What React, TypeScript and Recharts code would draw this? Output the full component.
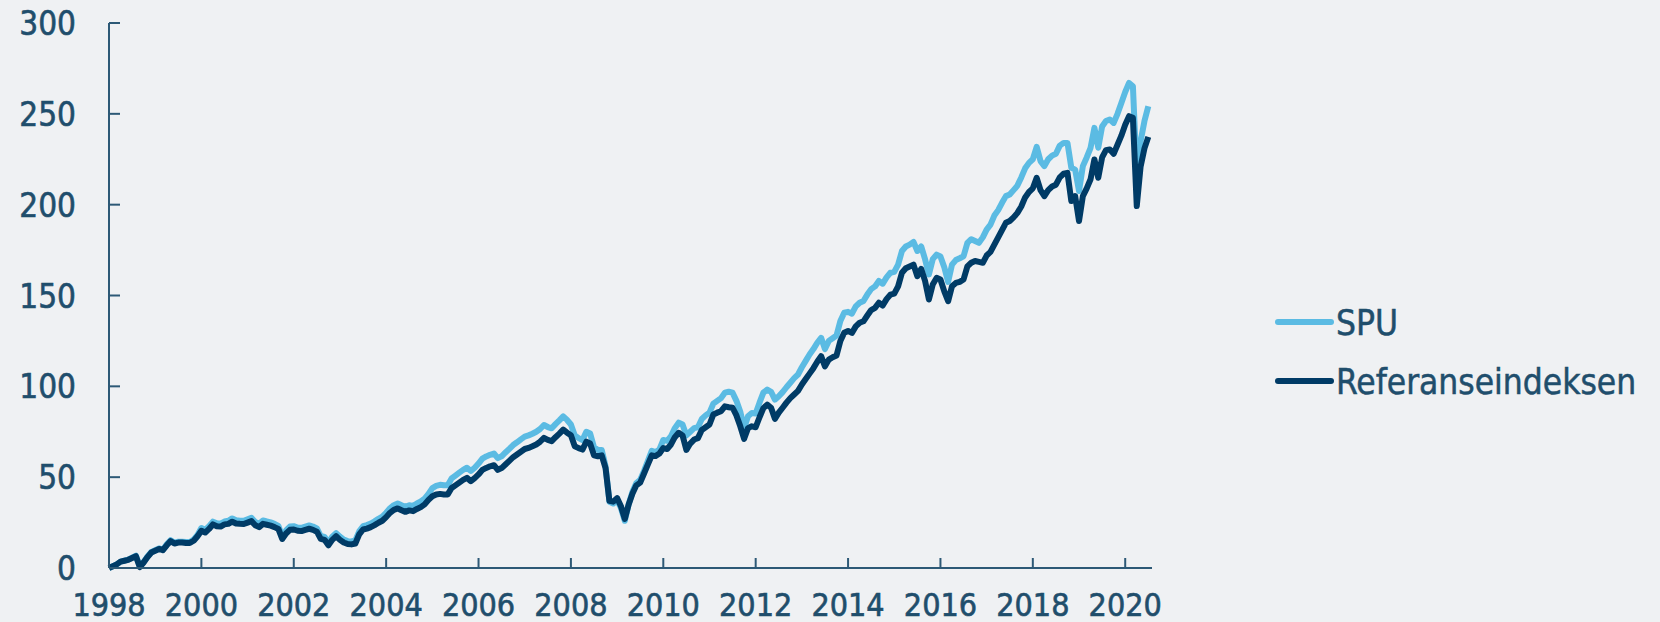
import React from 'react';
import { LineChart, Line, XAxis, YAxis } from 'recharts';

// Monthly cumulative return (%), first point = start of 1998
const SPU = [
  0, 1, 2, 3.5, 4, 4.6, 5.7, 6.8, 0.8, 3.3, 6.3, 8.8,
  9.8, 10.8, 10.1, 13, 15.3, 14, 14.5, 14.5, 14.3, 14.3, 15.6, 18.2,
  22, 21, 23, 25.5, 24.6, 24.4, 25.6, 26, 27.3, 26.3, 26, 26,
  26.8, 27.6, 25.3, 24.3, 26.2, 25.6, 25.1, 24.3, 23.2, 17.6, 20.7, 22.8,
  23, 22.3, 22.1, 22.8, 23.4, 22.8, 21.8, 17.6, 17.1, 14, 17.2, 19.2,
  17.2, 15.6, 14.8, 14.6, 15.2, 20.2, 23, 23.6, 24.5, 25.7, 27.1, 28.3,
  30.4, 32.9, 34.6, 35.5, 34.5, 33.7, 34.5, 34.2, 35.5, 36.6, 38.2, 40.8,
  44, 45.2, 45.8, 45.5, 45.6, 49.3, 50.9, 52.5, 54, 55.2, 53.4, 55.2,
  57.5, 60.2, 61.4, 62.3, 63, 60.5, 61.5, 63.6, 65.6, 67.7, 69.2, 70.8,
  72.3, 73, 73.9, 75, 76.5, 78.7, 77.6, 76.9, 79.2, 81.3, 83.5, 81.5,
  79, 73, 71.5, 70.5, 75, 74, 66.5, 65, 65, 56, 36.5, 35.5,
  37.5, 33, 26, 35, 42, 46.8, 48.5, 53.5, 59, 64.5, 63.8, 65.3,
  70.5, 70, 72.5, 77, 80, 79, 73, 75, 77, 77.5, 82, 84,
  85.5, 90.5, 92, 93.5, 96.5, 97, 96.5, 92, 86, 77, 83.5, 85.3,
  85, 91, 96.5, 98.2, 97, 92.7, 94.5, 96.8, 99.5, 102, 104.5, 106.5,
  110.5, 114, 117.5, 120.5, 124, 126.7, 120.5, 125, 126.5, 128, 136, 140.5,
  141, 140, 144, 146, 147, 150.5, 153.5, 155, 158, 156.5, 160, 162.5,
  163, 167, 174.5, 177, 178, 179.5, 174.5, 177, 170, 161.6, 170, 172.5,
  171.5, 165.5, 157.5, 167, 169.5, 170.5, 171.6, 179, 181, 180, 179, 182,
  186.3, 189, 194, 197, 201, 204.7, 205.6, 208, 210.5, 215, 220, 223,
  225, 231.8, 224, 221.2, 225, 227, 228, 232.5, 234, 234, 220.3, 219.3,
  207.5, 221.2, 226, 231.3, 242.3, 231.3, 243, 246, 246.9, 245, 250, 256,
  262, 267, 265.2, 216, 235, 246, 254.2,
];

const REFERANSE = [
  0, 1, 2, 3.5, 4, 4.5, 5.5, 6.5, 0.5, 3, 6, 8.5,
  9.5, 10.5, 9.8, 12.5, 14.8, 13.5, 14, 14, 13.8, 13.8, 15, 17.5,
  20.5, 19.5, 21.5, 24, 23, 22.8, 24, 24.3, 25.5, 24.5, 24.3, 24.2,
  25, 25.8, 23.5, 22.5, 24.3, 23.8, 23.3, 22.5, 21.5, 16, 19, 21,
  21.2, 20.5, 20.3, 21, 21.6, 21, 20, 16, 15.5, 12.5, 15.5, 17.5,
  15.5, 14, 13.2, 13, 13.5, 18.5, 21.2, 21.7, 22.5, 23.6, 24.9, 26,
  28, 30.4, 32, 32.8, 31.8, 30.9, 31.7, 31.3, 32.5, 33.5, 35, 37.5,
  39.5, 40.5, 40.8, 40.5, 40.5, 44, 45.5, 47, 48.5, 49.6, 47.8, 49.5,
  51.5, 54, 55.1, 56, 56.6, 54, 55, 57, 59, 61, 62.5, 64,
  65.5, 66.1, 67, 68, 69.5, 71.6, 70.5, 69.8, 72, 74, 76.2, 74.5,
  73.1, 67, 66, 65.2, 69.5, 68.5, 62, 61.5, 62, 55, 37, 36.5,
  38.5, 34, 27, 35, 41, 45.5, 47, 52, 57, 62, 61.6, 63,
  66, 65.5, 68, 72, 74.4, 73, 65, 68.5, 70.7, 71.5, 76, 77.5,
  79, 84.5, 85.5, 86.3, 89, 88.5, 88.2, 84, 78, 71.1, 77, 78,
  77.5, 83, 88, 89.9, 88.2, 82.1, 85.5, 88.2, 91, 93.5, 95.5, 97.5,
  101, 104, 107, 110, 113.5, 116.6, 111, 114.7, 116, 117, 125, 129.5,
  130.5, 129.4, 133, 135, 135.8, 139, 142, 143.2, 146, 144.5, 148, 150.5,
  151, 155, 162.5, 165, 166, 167, 160.6, 164.7, 158, 147.8, 156, 159.7,
  158.8, 152.3, 146.9, 155.1, 156.9, 157.5, 158.8, 166, 168, 169, 168.5, 168,
  172, 174, 178, 182, 186, 190, 191, 193, 195.5, 199, 204, 207,
  209, 214.8, 208, 204.7, 208, 210, 211, 215, 217, 217.5, 202, 204.7,
  191, 204.7, 209, 214, 224.9, 214.8, 226, 230, 230.4, 228, 233, 238,
  244, 248.7, 247.8, 199.2, 221, 231, 237.3,
];

const YEAR_TICKS = [1998, 2000, 2002, 2004, 2006, 2008, 2010, 2012, 2014, 2016, 2018, 2020];
const VALUE_TICKS = [0, 50, 100, 150, 200, 250, 300];
const SERIES = [
  { key: 'spu', name: 'SPU', color: '#5bbbe3' },
  { key: 'ref', name: 'Referanseindeksen', color: '#003b66' },
];

const START_YEAR = 1998;
const data = SPU.map((v, i) => ({ t: START_YEAR + i / 12, spu: v, ref: REFERANSE[i] }));

const BG = '#eff1f3';
const AXIS = '#2d5976';
const TEXT = '#1f4e6c';
const FONT = '"DejaVu Sans Condensed", "DejaVu Sans", sans-serif';

const YTick = (props: any) => {
  const { x, y, payload } = props;
  return (
    <g>
      <line x1={x} x2={x + 11} y1={y} y2={y} stroke={AXIS} strokeWidth={2} />
      <text x={x - 33} y={y + 12} textAnchor="end" fill={TEXT} stroke={TEXT} strokeWidth={0.6} fontSize={33} fontFamily={FONT}>
        {payload.value}
      </text>
    </g>
  );
};

const XTick = (props: any) => {
  const { x, y, payload } = props;
  return (
    <g>
      <line x1={x} x2={x} y1={y} y2={y - 10} stroke={AXIS} strokeWidth={2} />
      <text x={x} y={y + 48} textAnchor="middle" fill={TEXT} stroke={TEXT} strokeWidth={0.6} fontSize={32} fontFamily={FONT}>
        {payload.value}
      </text>
    </g>
  );
};

export default function App() {
  return (
    <div style={{ position: 'absolute', left: 0, top: 0, width: 1660, height: 622, background: BG, overflow: 'hidden' }}>
      <LineChart width={1660} height={622} data={data} margin={{ top: 23, right: 508, left: 0, bottom: 0 }}>
        <XAxis
          dataKey="t"
          type="number"
          domain={[1998, 2020.58]}
          ticks={YEAR_TICKS}
          interval={0}
          height={54}
          tickSize={0}
          tickMargin={0}
          tickLine={false}
          axisLine={{ stroke: AXIS, strokeWidth: 2 }}
          tick={<XTick />}
        />
        <YAxis
          type="number"
          domain={[0, 300]}
          ticks={VALUE_TICKS}
          interval={0}
          width={109}
          tickSize={0}
          tickMargin={0}
          tickLine={false}
          axisLine={{ stroke: AXIS, strokeWidth: 2 }}
          tick={<YTick />}
        />
        {SERIES.map((s) => (
          <Line
            key={s.key}
            type="linear"
            dataKey={s.key}
            name={s.name}
            stroke={s.color}
            strokeWidth={6}
            strokeLinejoin="round"
            dot={false}
            activeDot={false}
            isAnimationActive={false}
          />
        ))}
      </LineChart>
      <svg style={{ position: 'absolute', left: 0, top: 0 }} width={1660} height={622}>
        {SERIES.map((s, i) => (
          <g key={s.key}>
            <line x1={1278} x2={1331} y1={322 + i * 59} y2={322 + i * 59} stroke={s.color} strokeWidth={6} strokeLinecap="round" />
            <text x={1336} y={322 + i * 59 + 13} fill={TEXT} stroke={TEXT} strokeWidth={0.5} fontSize={35} fontFamily={FONT}>
              {s.name}
            </text>
          </g>
        ))}
      </svg>
    </div>
  );
}
